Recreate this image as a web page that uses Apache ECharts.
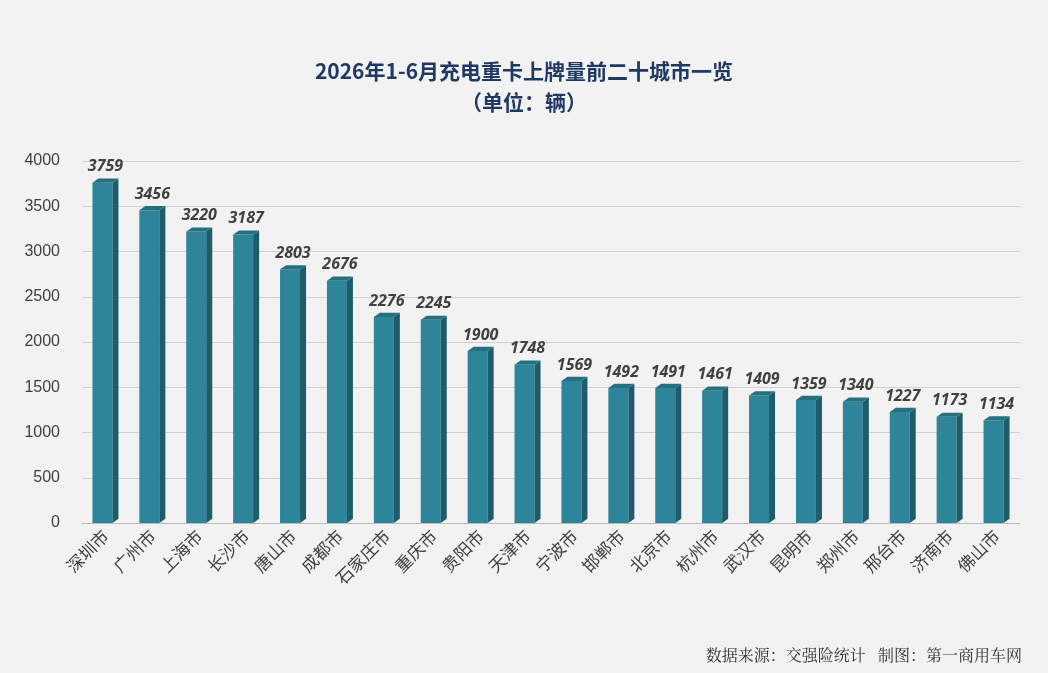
<!DOCTYPE html>
<html><head><meta charset="utf-8">
<script src="https://cdn.jsdelivr.net/npm/echarts@6/dist/echarts.min.js"></script>
<style>html,body{margin:0;padding:0;background:#F2F2F2}#c{width:1048px;height:673px}</style>
</head><body><div id="c"></div>
<script>
const categories = ['深圳市','广州市','上海市','长沙市','唐山市','成都市','石家庄市','重庆市','贵阳市','天津市','宁波市','邯郸市','北京市','杭州市','武汉市','昆明市','郑州市','邢台市','济南市','佛山市'];
const values = [3759,3456,3220,3187,2803,2676,2276,2245,1900,1748,1569,1492,1491,1461,1409,1359,1340,1227,1173,1134];
const chart = echarts.init(document.getElementById('c'));
const D = 6;
chart.setOption({
  backgroundColor:'#F2F2F2',
  title:[{text:'2026年1-6月充电重卡上牌量前二十城市一览',left:'center',top:56,
    textStyle:{fontSize:21,fontWeight:'bold',color:'#1F3864',fontFamily:'Noto Sans CJK SC'}},
    {text:'（单位：辆）',left:'center',top:87,
    textStyle:{fontSize:21,fontWeight:'bold',color:'#1F3864',fontFamily:'Noto Sans CJK SC'}}],
  graphic:[{type:'text',right:26,top:647,style:{text:'数据来源：交强险统计   制图：第一商用车网',fontSize:16,fill:'#333',fontFamily:'Noto Serif CJK SC, serif'}}],
  grid:{left:82,right:28,top:161,bottom:150},
  xAxis:{type:'category',data:categories,axisTick:{show:false},axisLine:{lineStyle:{color:'#bbb'}},
    axisLabel:{rotate:45,fontSize:17,color:'#404040',margin:10,fontFamily:'Noto Sans CJK SC'}},
  yAxis:{type:'value',min:0,max:4000,interval:500,axisLine:{show:false},axisTick:{show:false},
    axisLabel:{fontSize:16,color:'#404040',margin:22,formatter:v=>String(v)},splitLine:{lineStyle:{color:'#D0D0D0'}}},
  series:[{type:'custom',data:values.map((v,i)=>[i,v]),
    renderItem:(params,api)=>{
      const top=api.coord([api.value(0),api.value(1)]);
      const base=api.coord([api.value(0),0]);
      const w=20,x=top[0]-w/2-3,y=top[1],b=base[1];
      return {type:'group',children:[
        {type:'rect',shape:{x:x,y:y,width:w,height:b-y},style:{fill:'#2E8499'}},
        {type:'polygon',shape:{points:[[x+w,y],[x+w+D,y-D*0.7],[x+w+D,b-D*0.7],[x+w,b]]},style:{fill:'#1E5C6B'}},
        {type:'polygon',shape:{points:[[x,y],[x+D,y-D*0.7],[x+w+D,y-D*0.7],[x+w,y]]},style:{fill:'#256F80'}},
        {type:'text',style:{text:String(api.value(1)),x:x+w/2+3,y:y-8,textAlign:'center',textVerticalAlign:'bottom',
          font:'italic bold 16px "Open Sans"',fill:'#404040'}}
      ]};
    }}]
});
</script></body></html>
